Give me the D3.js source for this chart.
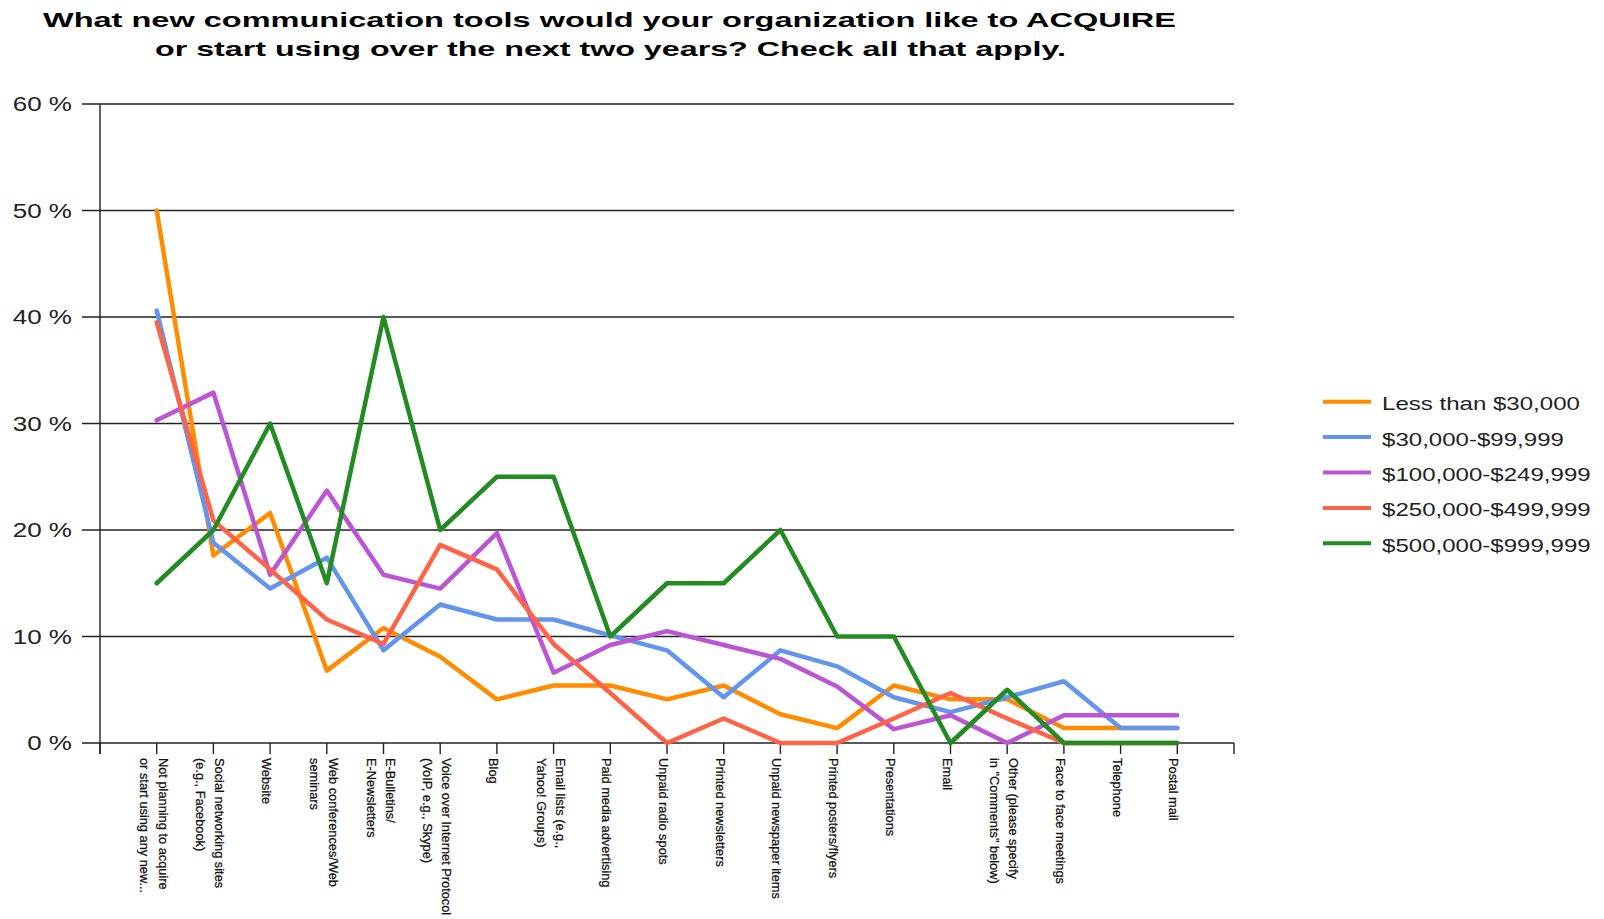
<!DOCTYPE html>
<html>
<head>
<meta charset="utf-8">
<script src="https://cdn.jsdelivr.net/npm/d3@7"></script>
<style>
  html, body { margin: 0; padding: 0; background: #fff; }
  svg { display: block; font-family: "Liberation Sans", Arial, sans-serif; }
</style>
</head>
<body>
<div id="chart"></div>
<script>
// categories (label lines split by "\n")
const categories = [
  "Not planning to acquire\nor start using any new...",
  "Social networking sites\n(e.g., Facebook)",
  "Website",
  "Web conferences/Web\nseminars",
  "E-Bulletins/\nE-Newsletters",
  "Voice over Internet Protocol\n(VoIP, e.g., Skype)",
  "Blog",
  "Email lists (e.g.,\nYahoo! Groups)",
  "Paid media advertising",
  "Unpaid radio spots",
  "Printed newsletters",
  "Unpaid newspaper items",
  "Printed posters/flyers",
  "Presentations",
  "Email",
  "Other (please specify\nin \"Comments\" below)",
  "Face to face meetings",
  "Telephone",
  "Postal mail"
];

const yTicks = [0, 10, 20, 30, 40, 50, 60];

const seriesNames = [
  "Less than $30,000",
  "$30,000-$99,999",
  "$100,000-$249,999",
  "$250,000-$499,999",
  "$500,000-$999,999"
];
const seriesColors = ["#ff8c00", "#6495ed", "#ba55d3", "#ff6347", "#228b22"];

const lessThan30k    = [50.0, 17.6, 21.6, 6.8, 10.8, 8.1, 4.1, 5.4, 5.4, 4.1, 5.4, 2.7, 1.4, 5.4, 4.1, 4.1, 1.4, 1.4, 1.4];
const from30kTo100k  = [40.6, 18.8, 14.5, 17.4, 8.7, 13.0, 11.6, 11.6, 10.1, 8.7, 4.3, 8.7, 7.2, 4.3, 2.9, 4.3, 5.8, 1.4, 1.4];
const from100kTo250k = [30.3, 32.9, 15.8, 23.7, 15.8, 14.5, 19.7, 6.6, 9.2, 10.5, 9.2, 7.9, 5.3, 1.3, 2.6, 0, 2.6, 2.6, 2.6];
const from250kTo500k = [39.5, 20.9, 16.3, 11.6, 9.3, 18.6, 16.3, 9.3, 4.7, 0, 2.3, 0, 0, 2.3, 4.7, 2.3, 0, 0, 0];
const from500kTo1m   = [15, 20, 30, 15, 40, 20, 25, 25, 10, 15, 15, 20, 10, 10, 0, 5, 0, 0, 0];

const seriesValues = [lessThan30k, from30kTo100k, from100kTo250k, from250kTo500k, from500kTo1m];

const width = 1604, height = 919;
const stretch = 1.3; // reference text looks horizontally widened

const svg = d3.select("#chart").append("svg")
  .attr("width", width)
  .attr("height", height);

// title
const title = svg.append("g").attr("font-weight", "bold").attr("font-size", 21).attr("fill", "#000");
title.append("text").attr("x", 43).attr("y", 27)
  .attr("textLength", 1133).attr("lengthAdjust", "spacingAndGlyphs")
  .text("What new communication tools would your organization like to ACQUIRE");
title.append("text").attr("x", 155).attr("y", 56)
  .attr("textLength", 911).attr("lengthAdjust", "spacingAndGlyphs")
  .text("or start using over the next two years? Check all that apply.");

const x = d3.scalePoint()
  .domain(d3.range(categories.length))
  .range([100, 1234])
  .padding(1);

const y = d3.scaleLinear()
  .domain([0, 60])
  .range([743, 104]);

// gridlines + y tick marks
svg.append("g")
  .selectAll("line")
  .data(yTicks)
  .join("line")
  .attr("x1", 82)
  .attr("x2", 1234)
  .attr("y1", d => y(d))
  .attr("y2", d => y(d))
  .attr("stroke", "#222")
  .attr("stroke-width", 1.4);

// y axis line
svg.append("line")
  .attr("x1", 100).attr("x2", 100)
  .attr("y1", y(60)).attr("y2", y(0) + 11)
  .attr("stroke", "#222").attr("stroke-width", 1.4);

// y tick labels
svg.append("g")
  .attr("font-size", 20)
  .attr("fill", "#222")
  .selectAll("text")
  .data(yTicks)
  .join("text")
  .attr("x", 72)
  .attr("y", d => y(d) + 7)
  .attr("text-anchor", "end")
  .text(d => d + " %");

// x axis ticks (including both ends)
const step = x.step();
const tickPos = [x.range()[0]].concat(x.domain().map(i => x(i)), [x.range()[0] + step * (categories.length + 1)]);
svg.append("g")
  .selectAll("line")
  .data(tickPos)
  .join("line")
  .attr("x1", d => d).attr("x2", d => d)
  .attr("y1", y(0)).attr("y2", y(0) + 11)
  .attr("stroke", "#222").attr("stroke-width", 1.4);

// x labels, rotated 90deg
const xl = svg.append("g").attr("font-size", 12.8).attr("fill", "#111")
  .attr("stroke", "#111").attr("stroke-width", 0.25);
categories.forEach((c, i) => {
  const lines = c.split("\n");
  const base = lines.length > 1 ? x(i) + 2 : x(i) - 8;
  const t = xl.append("text")
    .attr("transform", `translate(${base},758) rotate(90)`);
  lines.forEach((ln, k) => {
    t.append("tspan").attr("x", 0).attr("y", k * 19).text(ln);
  });
});

// lines
const line = d3.line()
  .x((d, i) => x(i))
  .y(d => y(d));

svg.append("g")
  .selectAll("path")
  .data(seriesValues)
  .join("path")
  .attr("d", d => line(d))
  .attr("fill", "none")
  .attr("stroke", (d, i) => seriesColors[i])
  .attr("stroke-width", 4.5)
  .attr("stroke-linejoin", "round")
  .attr("stroke-linecap", "round");

// legend
const legend = svg.append("g").attr("font-size", 18.5).attr("fill", "#222");
seriesNames.forEach((name, i) => {
  const ly = 401.7 + i * 35.4;
  legend.append("line")
    .attr("x1", 1323).attr("x2", 1371)
    .attr("y1", ly).attr("y2", ly)
    .attr("stroke", seriesColors[i])
    .attr("stroke-width", 4);
  legend.append("text")
    .attr("x", 1382).attr("y", ly + 8.5)
    .text(name);
});

// widen horizontal texts to match the reference
svg.selectAll("g text").filter(function () {
  return !this.getAttribute("transform") && !this.getAttribute("textLength");
}).each(function () {
  const w = this.getComputedTextLength();
  d3.select(this).attr("textLength", w * stretch).attr("lengthAdjust", "spacingAndGlyphs");
});
</script>
</body>
</html>
